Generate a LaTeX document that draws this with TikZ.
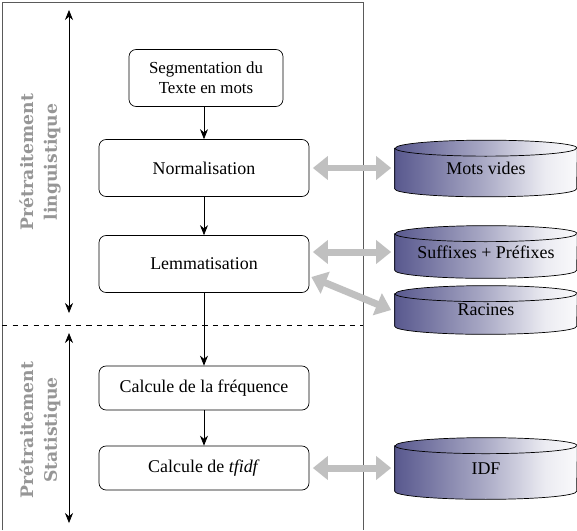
\documentclass[tikz,border=0pt]{standalone}
\usepackage{fontspec}
\setmainfont{Liberation Serif}
\newfontfamily\slabfont{DejaVu Serif}
\usetikzlibrary{positioning,arrows.meta,shapes.geometric,calc,backgrounds}
\definecolor{dbblue}{RGB}{88,88,142}
\definecolor{fatgray}{RGB}{192,192,192}
\definecolor{phasegray}{RGB}{150,150,150}
\definecolor{framegray}{RGB}{90,90,90}
\pgfdeclarehorizontalshading{dbshade}{100bp}{color(0bp)=(dbblue); color(25bp)=(dbblue);
  color(50bp)=(dbblue!50); color(66bp)=(dbblue!12); color(78bp)=(white); color(100bp)=(white)}
\tikzset{
  step-node/.style={draw, rounded corners=4pt, minimum width=4.2cm, minimum height=1.14cm,
    font=\fontsize{10.2}{12}\selectfont, align=center, inner sep=2pt},
  calc-node/.style={step-node, minimum height=0.88cm},
  db-node/.style={minimum width=3.64cm, inner sep=1pt, font=\fontsize{10.2}{12}\selectfont},
  db-end/.style={x radius=1.82cm, y radius=0.16cm},
  flow-arrow/.style={-{Stealth[length=2mm,width=1.6mm]}, thin},
  fat-arrow/.style={{Triangle[length=3mm,width=4.6mm]}-{Triangle[length=3mm,width=4.6mm]},
    line width=1.4mm, draw=fatgray},
  span-arrow/.style={{Stealth[length=2mm,width=1.6mm]}-{Stealth[length=2mm,width=1.6mm]}, thin},
  phase-label/.style={rotate=90, align=center, text=phasegray,
    font=\slabfont\bfseries\fontsize{9.8}{13.5}\selectfont}
}
\begin{document}
\begin{tikzpicture}[x=0.02cm, y=-0.02cm]
\useasboundingbox (0,0) rectangle (577,530);
% frame and separation
\draw[framegray] (2,530) -- (2,2) -- (363,2) -- (363,530);
\draw[dashed] (2,325) -- (363,325);
% phase labels
\node[phase-label] (ling) at (40,162) {Prétraitement\\linguistique};
\node[phase-label] (stat) at (40,430) {Prétraitement\\Statistique};
\coordinate (lingtop) at (69,10);
\coordinate (lingbot) at (69,313);
\coordinate (stattop) at (69,333);
\coordinate (statbot) at (69,523);
\draw[span-arrow] (lingtop) -- (lingbot);
\draw[span-arrow] (stattop) -- (statbot);
% steps
\node[step-node, minimum width=3.08cm, font=\fontsize{9.6}{11.4}\selectfont] (segment) at (206,78) {Segmentation du\\Texte en mots};
\node[step-node] (normal) at (204,168) {Normalisation};
\node[step-node] (lemma) at (204,264) {Lemmatisation};
\node[calc-node] (freq) at (204,388) {Calcule de la fréquence};
\node[calc-node] (tfidf) at (204,468) {Calcule de \textit{tfidf}};
\draw[flow-arrow] (segment.south -| normal) -- (normal);
\draw[flow-arrow] (normal) -- (lemma);
\draw[flow-arrow] (lemma) -- (freq);
\draw[flow-arrow] (freq) -- (tfidf);
% resources (cylinder bodies)
\node[db-node, minimum height=0.8cm] (stopw) at (486,168.5) {Mots vides};
\node[db-node, minimum height=0.72cm] (affix) at (486,252) {Suffixes + Préfixes};
\node[db-node, minimum height=0.64cm] (roots) at (486,310) {Racines};
\node[db-node, minimum height=0.9cm] (idf) at (486,468.5) {IDF};
\begin{scope}[on background layer]
\foreach \db in {stopw,affix,roots,idf}{
  \shadedraw[shading=dbshade] (\db.north west) -- (\db.south west)
    arc[start angle=180, end angle=360, db-end] -- (\db.north east)
    arc[start angle=0, end angle=180, db-end] -- cycle;
  \draw (\db.north west) arc[start angle=180, end angle=360, db-end];
}
\end{scope}
\draw[fat-arrow] ([xshift=2pt]normal.east) -- ([xshift=-2pt]normal.east -| stopw.west);
\draw[fat-arrow] ([xshift=2pt]lemma.east |- affix.west) -- ([xshift=-2pt]affix.west);
\draw[fat-arrow] ($(lemma.east)+(2,13)$) -- ([xshift=-2pt]roots.west);
\draw[fat-arrow] ([xshift=2pt]tfidf.east) -- ([xshift=-2pt]tfidf.east -| idf.west);
\end{tikzpicture}
\end{document}
